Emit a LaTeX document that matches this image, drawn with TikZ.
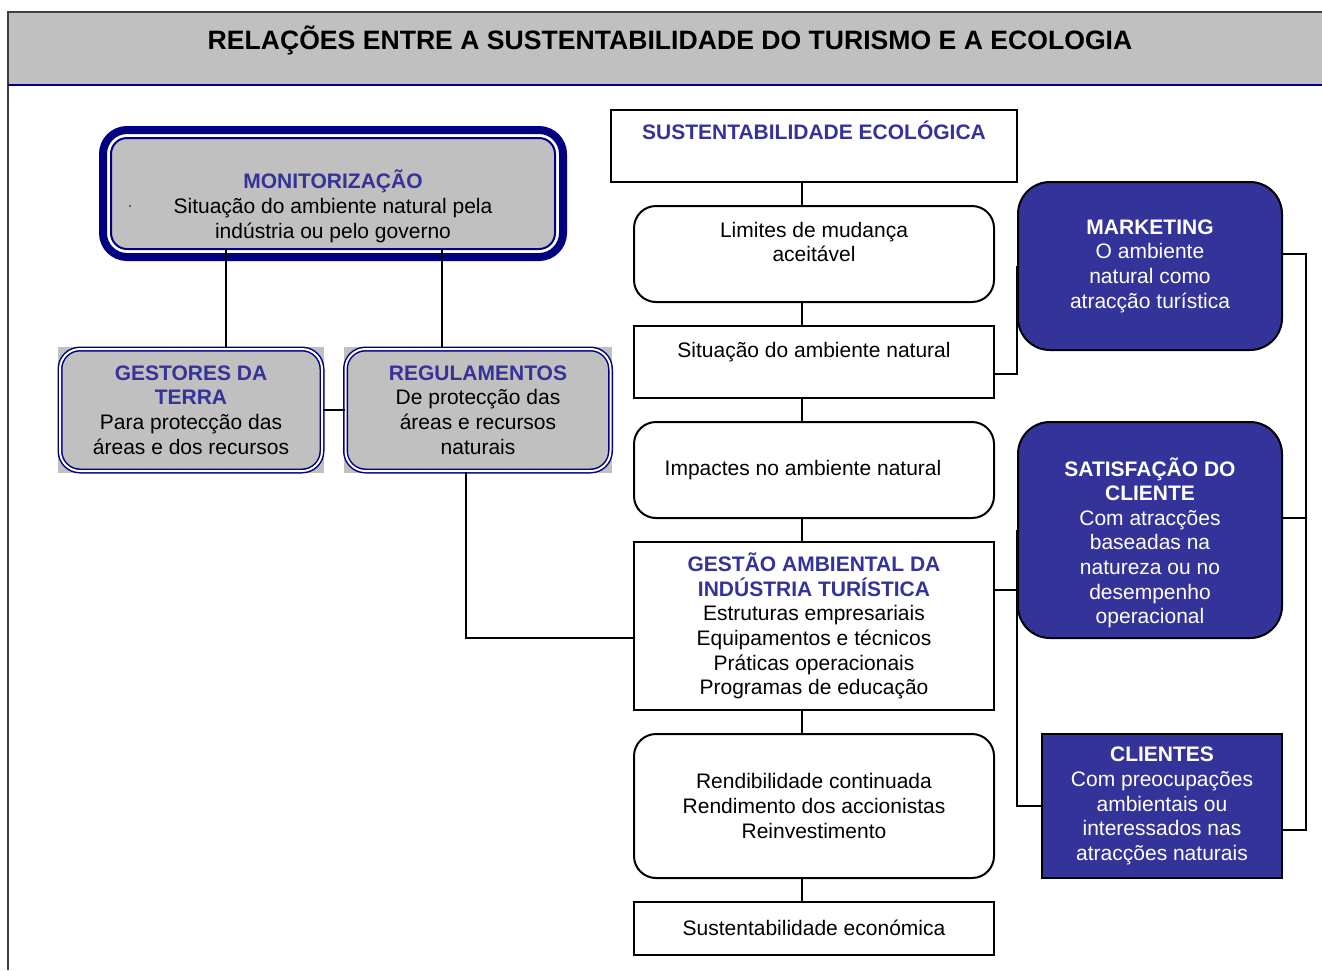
\documentclass[tikz,border=0pt]{standalone}
\usepackage{fontspec}
\setmainfont{Liberation Sans}
\usetikzlibrary{backgrounds}
\definecolor{hdgrey}{HTML}{C0C0C0}
\definecolor{navy}{HTML}{000080}
\definecolor{boxblue}{HTML}{333399}
\newcommand{\headtxt}[1]{{\bfseries\color{boxblue}#1}}
\newcommand{\gapline}{\rule{0pt}{1pt}}

\begin{document}
\begin{tikzpicture}[x=1pt, y=-1pt,
	txt/.style={font=\fontsize{21}{24.6}\selectfont, align=center, inner sep=0pt},
	plainbox/.style={txt, draw=black, line width=2pt, minimum width=360pt},
	roundbox/.style={plainbox, rounded corners=22pt},
	bluebox/.style={txt, draw=black, line width=2pt, fill=boxblue, text=white},
	greybox/.style={txt, fill=hdgrey, draw=navy, double=white, double distance=2pt, line width=1.5pt, rounded corners=20pt, minimum height=122pt},
	link/.style={draw=black, line width=2pt}]
			\useasboundingbox (0,0) rectangle (1322,970);
			
			% header
			\fill[hdgrey] (8,12) rectangle (1322,84);
			\draw[darkgray, line width=1.5pt] (8,970) -- (8,12) -- (1322,12);
			\draw[navy, line width=2.5pt] (8,85) -- (1322,85);
			\node[inner sep=0pt, font=\fontsize{26.6}{30}\selectfont\bfseries] (title) at (670,40) {RELAÇÕES ENTRE A SUSTENTABILIDADE DO TURISMO E A ECOLOGIA};
			
			% lanes
			\coordinate (spine) at (802,0);
			\coordinate (xa) at (226,0);
			\coordinate (xb) at (442,0);
			\coordinate (xc) at (466,0);
			\coordinate (bus) at (1306,0);
			
			% left side
			\node[txt, fill=hdgrey, draw=navy, line width=2pt, rounded corners=16pt, minimum width=444pt, minimum height=111pt] (mon) at (333,193.5) {\strut\\\headtxt{MONITORIZAÇÃO}\\Situação do ambiente natural pela\\indústria ou pelo governo};
			\draw[navy, line width=8pt, rounded corners=24pt] ([shift={(-7,-7)}]mon.north west) rectangle ([shift={(7,7)}]mon.south east);
			\fill (130,206) circle (0.9pt);
			
			\node[greybox, minimum width=262pt] (gto) at (191,410) {\headtxt{GESTORES DA}\\\headtxt{TERRA}\\Para protecção das\\áreas e dos recursos};
			\node[greybox, minimum width=265pt] (reg) at (478,410) {\headtxt{REGULAMENTOS}\\De protecção das\\áreas e recursos\\naturais};
			\begin{pgfonlayer}{background}
				\fill[hdgrey] ([shift={(-1,-1)}]gto.north west) rectangle ([shift={(1,1)}]gto.south east);
				\fill[hdgrey] ([shift={(-1,-1)}]reg.north west) rectangle ([shift={(1,1)}]reg.south east);
			\end{pgfonlayer}
			
			% centre column
			\node[plainbox, minimum width=406pt, minimum height=72pt] (sust) at (814,146) {\headtxt{SUSTENTABILIDADE ECOLÓGICA}\\\strut};
			\node[roundbox, minimum height=96pt] (lim) at (814,254) {Limites de mudança\\aceitável\\\gapline};
			\node[plainbox, minimum height=72pt] (sit) at (814,362) {Situação do ambiente natural\\\gapline};
			\node[roundbox, minimum height=96pt] (imp) at (814,470) {Impactes no ambiente natural\hspace*{22pt}};
			\node[plainbox, minimum height=168pt] (ges) at (814,626) {\headtxt{GESTÃO AMBIENTAL DA}\\\headtxt{INDÚSTRIA TURÍSTICA}\\Estruturas empresariais\\Equipamentos e técnicos\\Práticas operacionais\\Programas de educação};
			\node[roundbox, minimum height=144pt] (ren) at (814,806) {Rendibilidade continuada\\Rendimento dos accionistas\\Reinvestimento};
			\node[plainbox, minimum height=53pt, text depth=2pt] (eco) at (814,928.5) {Sustentabilidade económica};
			
			% right side
			\node[bluebox, rounded corners=32pt, minimum width=264pt, minimum height=168pt] (mkt) at (1150,266) {\textbf{MARKETING}\\O ambiente\\natural como\\atracção turística};
			\node[bluebox, rounded corners=32pt, minimum width=264pt, minimum height=216pt] (sat) at (1150,530) {\strut\\\textbf{SATISFAÇÃO DO}\\\textbf{CLIENTE}\\Com atracções\\baseadas na\\natureza ou no\\desempenho\\operacional};
			\node[bluebox, minimum width=240pt, minimum height=144pt] (cli) at (1162,806) {\textbf{CLIENTES}\\Com preocupações\\ambientais ou\\interessados nas\\atracções naturais};
			
			% connectors
			\path[link] (mon.south -| xa) -- (gto.north -| xa);
			\path[link] (mon.south -| xb) -- (reg.north -| xb);
			\path[link] (gto) -- (reg);
			\path[link] (reg.south -| xc) |- ([yshift=-12pt]ges.west);
			\foreach \a/\b in {sust/lim, lim/sit, sit/imp, imp/ges, ges/ren, ren/eco}
				\path[link] (\a.south -| spine) -- (\b.north -| spine);
			\path[link] ([yshift=-12pt]sit.east) -| (mkt.west);
			\path[link] ([yshift=36pt]ges.east) -- ++(24,0);
			\path[link] (sat.west) |- (cli.west);
			\coordinate (cliR) at ([yshift=-24pt]cli.east);
			\path[link] ([yshift=12pt]mkt.east) -| (bus |- cliR) -- (cliR);
			\path[link] ([yshift=12pt]sat.east) -- ++(24,0);
			\end{tikzpicture}
\end{document}
